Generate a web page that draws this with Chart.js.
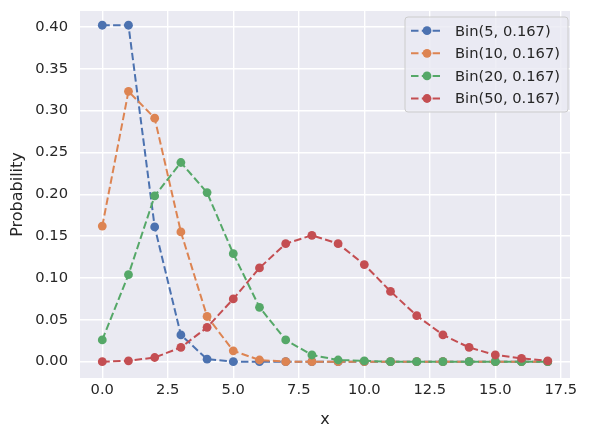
<!DOCTYPE html>
<html>
<head>
<meta charset="utf-8">
<script src="https://cdn.jsdelivr.net/npm/chart.js@4/dist/chart.umd.min.js"></script>
<style>
  html, body { margin: 0; padding: 0; background: #ffffff; }
  #wrap { width: 594px; height: 441px; }
</style>
</head>
<body>
<div id="wrap"><canvas id="chart" width="594" height="441"></canvas></div>
<script>
// values (probabilities at x = 0..17)
const xValues = [0, 1, 2, 3, 4, 5, 6, 7, 8, 9, 10, 11, 12, 13, 14, 15, 16, 17];
const bin5 = [0.402, 0.402, 0.161, 0.032, 0.003, 0.000, 0, 0, 0, 0, 0, 0, 0, 0, 0, 0, 0, 0];
const bin10 = [0.162, 0.323, 0.291, 0.155, 0.054, 0.013, 0.002, 0.000, 0, 0, 0, 0, 0, 0, 0, 0, 0, 0];
const bin20 = [0.026, 0.104, 0.198, 0.238, 0.202, 0.129, 0.065, 0.026, 0.008, 0.002, 0.001, 0.000, 0, 0, 0, 0, 0, 0];
const bin50 = [0.000, 0.001, 0.005, 0.017, 0.041, 0.075, 0.112, 0.141, 0.151, 0.141, 0.116, 0.084, 0.055, 0.032, 0.017, 0.008, 0.004, 0.001];

const seriesLabels = ['Bin(5, 0.167)', 'Bin(10, 0.167)', 'Bin(20, 0.167)', 'Bin(50, 0.167)'];
const seriesValues = [bin5, bin10, bin20, bin50];
const seriesColors = ['#4c72b0', '#dd8452', '#55a868', '#c44e52'];

const xTicks = [0, 2.5, 5, 7.5, 10, 12.5, 15, 17.5];
const yTicks = [0, 0.05, 0.10, 0.15, 0.20, 0.25, 0.30, 0.35, 0.40];

const TEXT = '#262626';
const FONT = 'DejaVu Sans';
const DASH = [7.5, 3.3];

// grey axes background, seaborn darkgrid style
const axesBg = {
  id: 'axesBg',
  beforeDraw(chart) {
    const a = chart.chartArea;
    chart.ctx.save();
    chart.ctx.fillStyle = '#eaeaf2';
    chart.ctx.fillRect(a.left, a.top, a.right - a.left, a.bottom - a.top);
    chart.ctx.restore();
  }
};

// matplotlib-style legend inside the plot, top right
const insideLegend = {
  id: 'insideLegend',
  afterDraw(chart) {
    const ctx = chart.ctx;
    const ds = chart.data.datasets;
    const right = chart.chartArea.right - 2;
    const top = chart.chartArea.top + 6;
    const w = 163, rowH = 22.6, h = 95;
    const left = right - w;
    ctx.save();
    ctx.beginPath();
    ctx.roundRect(left, top, w, h, 3);
    ctx.fillStyle = 'rgba(234,234,242,0.8)';
    ctx.fill();
    ctx.strokeStyle = '#cccccc';
    ctx.lineWidth = 1;
    ctx.stroke();
    ctx.font = '14.7px ' + FONT;
    ctx.textBaseline = 'middle';
    ds.forEach((d, i) => {
      const cy = top + 13.7 + i * rowH;
      ctx.strokeStyle = d.borderColor;
      ctx.lineWidth = 2;
      ctx.setLineDash(DASH);
      ctx.beginPath();
      ctx.moveTo(left + 6, cy);
      ctx.lineTo(left + 35, cy);
      ctx.stroke();
      ctx.setLineDash([]);
      ctx.beginPath();
      ctx.arc(left + 22, cy, 4.4, 0, Math.PI * 2);
      ctx.fillStyle = d.borderColor;
      ctx.fill();
      ctx.fillStyle = TEXT;
      ctx.fillText(d.label, left + 50, cy + 1);
    });
    ctx.restore();
  }
};

const datasets = seriesValues.map((vals, i) => ({
  label: seriesLabels[i],
  data: xValues.map((x, j) => ({ x, y: vals[j] })),
  borderColor: seriesColors[i],
  backgroundColor: seriesColors[i],
  borderWidth: 2,
  borderDash: DASH,
  pointRadius: 4.4,
  pointHoverRadius: 4.4,
  pointBorderWidth: 0,
  pointBackgroundColor: seriesColors[i],
  tension: 0,
  order: seriesValues.length - 1 - i
}));

new Chart(document.getElementById('chart'), {
  type: 'line',
  data: { datasets },
  plugins: [axesBg, insideLegend],
  options: {
    responsive: false,
    animation: false,
    devicePixelRatio: 1,
    layout: { padding: { left: 0, right: 24, top: 11, bottom: 0 } },
    plugins: {
      legend: { display: false },
      tooltip: { enabled: false }
    },
    scales: {
      x: {
        type: 'linear',
        min: -0.85,
        max: 17.85,
        afterBuildTicks: s => { s.ticks = xTicks.map(v => ({ value: v })); },
        afterFit: s => { s.height = 63; s.paddingLeft = 0; s.paddingRight = 0; },
        grid: { color: '#ffffff', lineWidth: 1.4, drawTicks: false },
        border: { display: false },
        ticks: {
          color: TEXT, font: { family: FONT, size: 14.7 }, padding: 3,
          maxRotation: 0, callback: v => v.toFixed(1)
        },
        title: {
          display: true, text: 'x', color: TEXT,
          font: { family: FONT, size: 16 }, padding: { top: 0, bottom: 11.4 }
        }
      },
      y: {
        type: 'linear',
        min: -0.0195,
        max: 0.419,
        afterBuildTicks: s => { s.ticks = yTicks.map(v => ({ value: v })); },
        afterFit: s => { s.width = 80; s.paddingTop = 0; s.paddingBottom = 0; },
        grid: { color: '#ffffff', lineWidth: 1.4, drawTicks: false },
        border: { display: false },
        ticks: {
          color: TEXT, font: { family: FONT, size: 14.7 }, padding: 12,
          callback: v => v.toFixed(2)
        },
        title: {
          display: true, text: 'Probability', color: TEXT,
          font: { family: FONT, size: 16 }, padding: { top: 8.4, bottom: 0 }
        }
      }
    }
  }
});
</script>
</body>
</html>
